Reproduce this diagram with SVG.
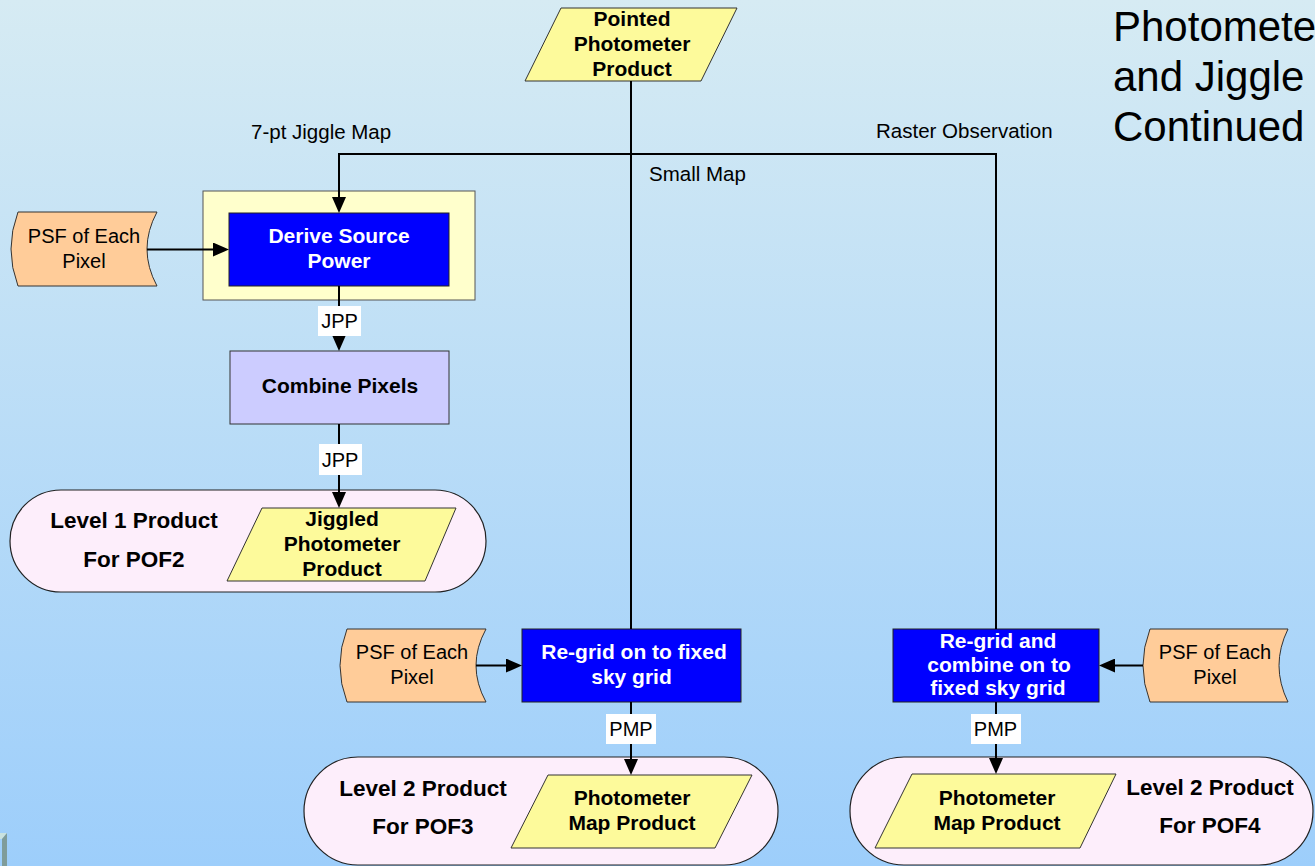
<svg xmlns="http://www.w3.org/2000/svg" width="1315" height="866" viewBox="0 0 1315 866">
  <defs>
    <linearGradient id="bg" x1="0" y1="0" x2="0" y2="1">
      <stop offset="0" stop-color="#d6ebf3"/>
      <stop offset="1" stop-color="#9dcefb"/>
    </linearGradient>
    <marker id="arr" viewBox="0 0 16 14" refX="12" refY="7" markerWidth="16" markerHeight="14" markerUnits="userSpaceOnUse" orient="auto">
      <path d="M0,0 L16,7 L0,14 Z" fill="#000"/>
    </marker>
    <style>
      text { font-family: "Liberation Sans", Arial, sans-serif; fill: #000; }
      .b { font-weight: bold; font-size: 21px; text-anchor: middle; }
      .bw { font-weight: bold; font-size: 21px; text-anchor: middle; fill: #fff; }
      .n { font-size: 20px; text-anchor: middle; }
      .lbl { font-size: 20.5px; }
      .lvl { font-weight: bold; font-size: 22.5px; text-anchor: middle; }
      .title { font-size: 42px; }
      .data { fill: #fdfa9b; stroke: #333; stroke-width: 1; }
      .proc { fill: #0000ff; stroke: #222; stroke-width: 1; }
      .psf { fill: #ffcc99; stroke: #333; stroke-width: 1; }
      .term { fill: #fdeefb; stroke: #222; stroke-width: 1.2; }
      .tag { fill: #fff; }
      .wire { fill: none; stroke: #000; stroke-width: 2; }
    </style>
  </defs>

  <rect x="0" y="0" width="1315" height="866" fill="url(#bg)"/>

  <!-- corner ornament -->
  <polygon points="0,833 7,833 2,839 0,839" fill="#c9e2e0"/>
  <polygon points="2,839 7,833 7,866 2,866" fill="#7f9c9a"/>

  <!-- title -->
  <g id="title">
    <text class="title" x="1113" y="41">Photometer</text>
    <text class="title" x="1113" y="91">and Jiggle</text>
    <text class="title" x="1113" y="141">Continued</text>
  </g>

  <!-- input product -->
  <g id="pointed-product">
    <polygon class="data" points="561,8 737,8 701,81 525,81"/>
    <text class="b" x="632" y="26">Pointed</text>
    <text class="b" x="632" y="51">Photometer</text>
    <text class="b" x="632" y="76">Product</text>
  </g>

  <!-- jiggle branch -->
  <g id="psf-jiggle">
    <path class="psf" d="M18,212 L157,212 Q137,249 157,286 L18,286 Q4,249 18,212 Z"/>
    <text class="n" x="84" y="243">PSF of Each</text>
    <text class="n" x="84" y="268">Pixel</text>
  </g>

  <g id="derive-source-power">
    <rect x="203" y="191" width="272" height="109" fill="#ffffcc" stroke="#555" stroke-width="1"/>
    <rect class="proc" x="229" y="213" width="220" height="73"/>
    <text class="bw" x="339" y="243">Derive Source</text>
    <text class="bw" x="339" y="268">Power</text>
  </g>

  <g id="combine-pixels">
    <rect x="230" y="351" width="219" height="73" fill="#ccccff" stroke="#333" stroke-width="1"/>
    <text class="b" x="340" y="393">Combine Pixels</text>
  </g>

  <g id="level1-pof2">
    <rect class="term" x="10" y="490" width="476" height="102" rx="51" ry="51"/>
    <text class="lvl" x="134" y="528">Level 1 Product</text>
    <text class="lvl" x="134" y="567">For POF2</text>
    <polygon class="data" points="262,508 456,508 425,581 227,581"/>
    <text class="b" x="342" y="526">Jiggled</text>
    <text class="b" x="342" y="551">Photometer</text>
    <text class="b" x="342" y="576">Product</text>
  </g>

  <!-- small map branch -->
  <g id="psf-small-map">
    <path class="psf" d="M347,629 L486,629 Q466,665.5 486,702 L347,702 Q333,665.5 347,629 Z"/>
    <text class="n" x="412" y="659">PSF of Each</text>
    <text class="n" x="412" y="684">Pixel</text>
  </g>

  <g id="regrid-small-map">
    <rect class="proc" x="522" y="629" width="219" height="73"/>
    <text class="bw" x="634" y="659">Re-grid on to fixed</text>
    <text class="bw" x="631.5" y="684">sky grid</text>
  </g>

  <g id="level2-pof3">
    <rect class="term" x="304" y="757" width="474" height="108" rx="54" ry="54"/>
    <text class="lvl" x="423" y="796">Level 2 Product</text>
    <text class="lvl" x="423" y="834">For POF3</text>
    <polygon class="data" points="548,775 752,775 715,848 511,848"/>
    <text class="b" x="632" y="805">Photometer</text>
    <text class="b" x="632" y="830">Map Product</text>
  </g>

  <!-- raster branch -->
  <g id="regrid-raster">
    <rect class="proc" x="893" y="629" width="206" height="73"/>
    <text class="bw" x="998" y="648">Re-grid and</text>
    <text class="bw" x="999" y="672">combine on to</text>
    <text class="bw" x="998" y="695">fixed sky grid</text>
  </g>

  <g id="psf-raster">
    <path class="psf" d="M1150,629 L1288,629 Q1270,665.5 1288,702 L1150,702 Q1136,665.5 1150,629 Z"/>
    <text class="n" x="1215" y="659">PSF of Each</text>
    <text class="n" x="1215" y="684">Pixel</text>
  </g>

  <g id="level2-pof4">
    <rect class="term" x="850" y="757" width="463" height="108" rx="54" ry="54"/>
    <polygon class="data" points="912,774 1116,774 1080,848 875,848"/>
    <text class="b" x="997" y="805">Photometer</text>
    <text class="b" x="997" y="830">Map Product</text>
    <text class="lvl" x="1210" y="795">Level 2 Product</text>
    <text class="lvl" x="1210" y="833">For POF4</text>
  </g>

  <!-- connectors, drawn over the nodes so arrowheads stay visible -->
  <g id="connectors">
    <path class="wire" d="M631,81 V629"/>
    <path class="wire" d="M996,629 V154 H339 V209" marker-end="url(#arr)"/>
    <path class="wire" d="M147,249.5 H225" marker-end="url(#arr)"/>
    <path class="wire" d="M339,286 V347" marker-end="url(#arr)"/>
    <path class="wire" d="M339,424 V504" marker-end="url(#arr)"/>
    <path class="wire" d="M631,702 V771" marker-end="url(#arr)"/>
    <path class="wire" d="M476,665.5 H518" marker-end="url(#arr)"/>
    <path class="wire" d="M996,702 V770" marker-end="url(#arr)"/>
    <path class="wire" d="M1143,665.5 H1103" marker-end="url(#arr)"/>

    <text class="lbl" x="251" y="139">7-pt Jiggle Map</text>
    <text class="lbl" x="876" y="138">Raster Observation</text>
    <text class="lbl" x="649" y="181">Small Map</text>

    <rect class="tag" x="318" y="306" width="43" height="30"/>
    <text class="n" x="339.5" y="328">JPP</text>
    <rect class="tag" x="319" y="444" width="43" height="31"/>
    <text class="n" x="340" y="467">JPP</text>
    <rect class="tag" x="606" y="714" width="50" height="30"/>
    <text class="n" x="631" y="736">PMP</text>
    <rect class="tag" x="971" y="714" width="50" height="30"/>
    <text class="n" x="995.5" y="736">PMP</text>
  </g>
</svg>
